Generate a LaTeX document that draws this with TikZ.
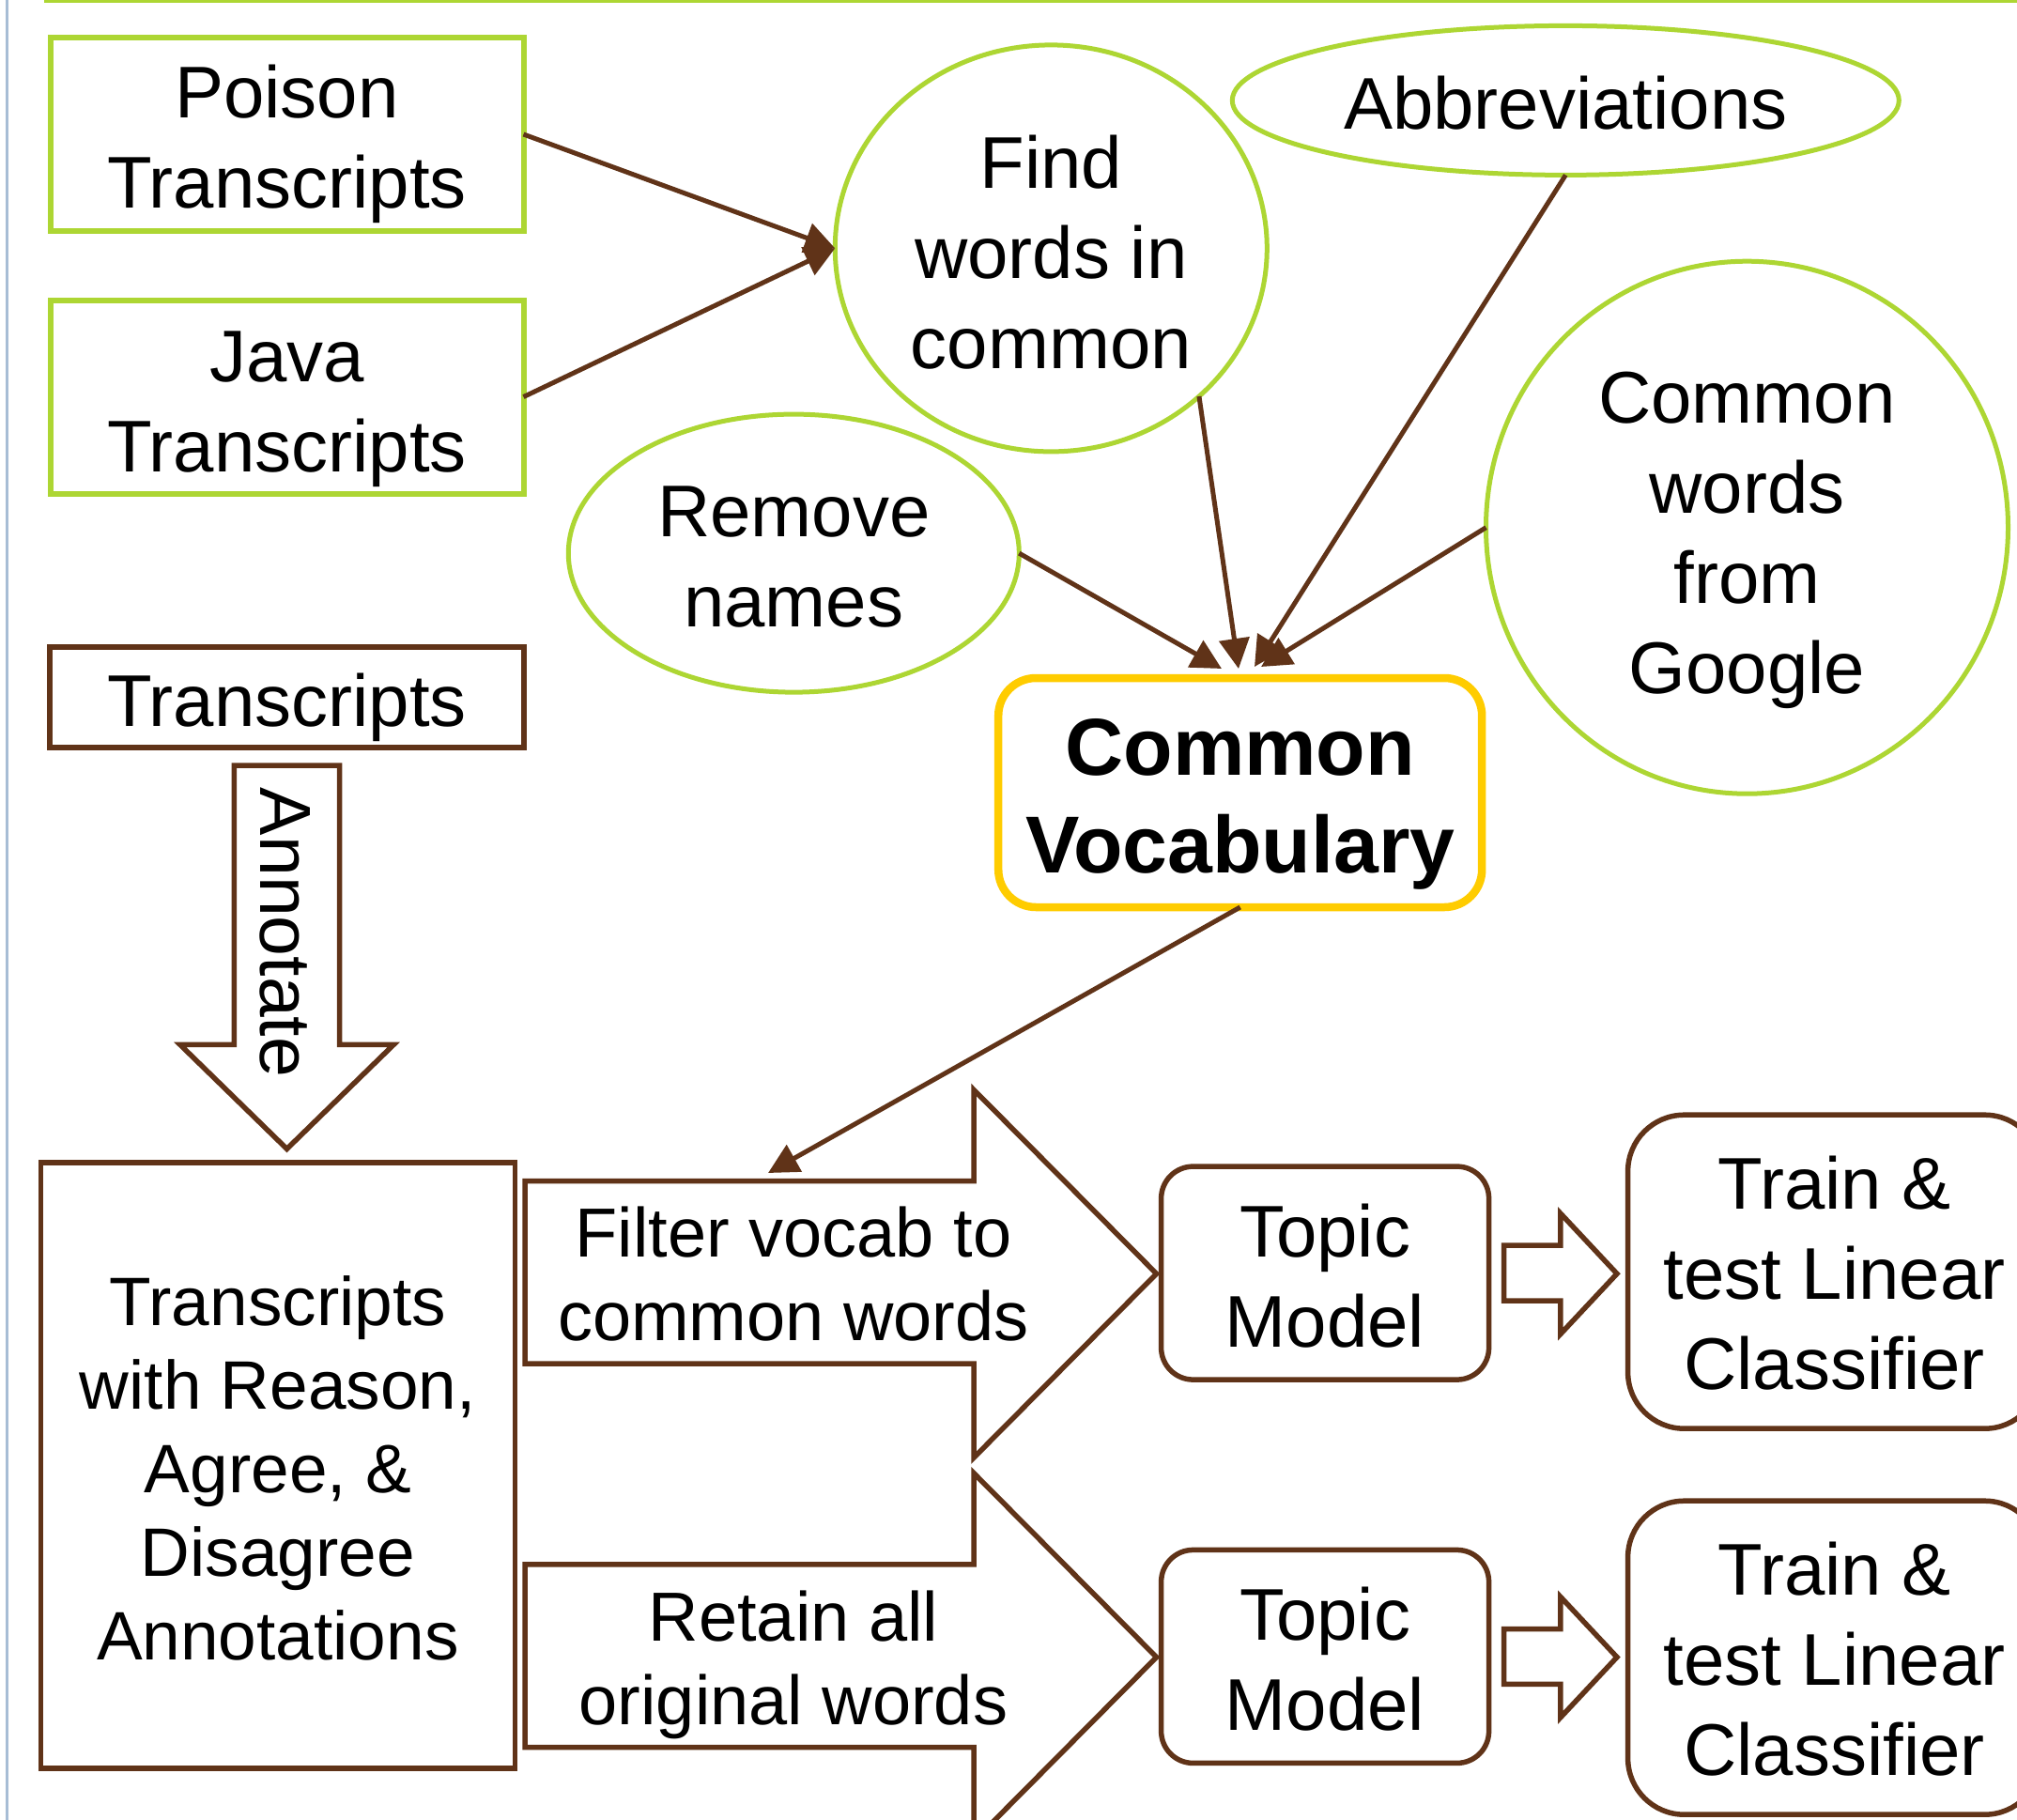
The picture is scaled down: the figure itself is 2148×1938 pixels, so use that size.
\documentclass[tikz,border=0pt]{standalone}
\usepackage{fontspec}
\setmainfont{Liberation Sans}
\usetikzlibrary{shapes.geometric,arrows.meta}
\definecolor{lgreen}{HTML}{ADD633}
\definecolor{vyellow}{HTML}{FFCC00}
\definecolor{dbrown}{HTML}{603318}
\definecolor{edgeblue}{HTML}{A7BDD5}
\begin{document}
\begin{tikzpicture}[x=1pt,y=-1pt,
  every node/.style={inner sep=0pt, outer sep=0pt, align=center},
  txt/.style={font=\fontsize{78}{96}\selectfont},
  smalltxt/.style={font=\fontsize{74}{89}\selectfont},
  greenbox/.style={draw=lgreen, line width=6pt, rectangle, minimum width=504pt, minimum height=206pt},
  greenoval/.style={draw=lgreen, line width=5pt, ellipse},
  brownbox/.style={draw=dbrown, line width=5.5pt, rectangle},
  brownround/.style={draw=dbrown, line width=5.5pt, rounded corners=34pt, rectangle},
  conn/.style={draw=dbrown, line width=5pt, -{Triangle[length=32pt,width=32pt]}},
  blockarrow/.style={draw=dbrown, line width=5.5pt, fill=white, line join=miter},
  vocabstyle/.style={draw=vyellow, line width=8.5pt, rounded corners=40pt, rectangle},
  vocabtxt/.style={font=\fontsize{86}{104}\selectfont\bfseries},
]
\clip (0,0) rectangle (2148,1938);
\fill[white] (0,0) rectangle (2148,1938);
\draw[edgeblue, line width=3pt] (7,0) -- (7,1938);
\draw[lgreen, line width=3.5pt] (47,1) -- (2148,1);

% top inputs
\node[greenbox] (poison) at (305.5,143) {};
\node[txt] (poisontxt) at (305.5,153) {Poison\\Transcripts};
\node[greenbox] (java) at (305.5,422.6) {};
\node[txt] (javatxt) at (305.5,436) {Java\\Transcripts};
\node[greenoval, minimum width=460pt, minimum height=433pt] (find) at (1119.3,264.4) {};
\node[txt] (findtxt) at (1119.3,268.5) {Find\\words in\\common};
\node[greenoval, minimum width=710pt, minimum height=159pt] (abbr) at (1667.3,106.9) {};
\node[txt] (abbrtxt) at (1667.3,110) {Abbreviations};
\node[greenoval, minimum width=556pt, minimum height=567pt] (google) at (1860.5,561.7) {};
\node[txt] (googletxt) at (1860.5,575.5) {Common\\words\\from\\Google};
\node[greenoval, minimum width=480pt, minimum height=296pt] (remove) at (845.3,589.1) {};
\node[txt] (removetxt) at (845.3,593) {Remove\\names};
\node[vocabstyle, minimum width=515pt, minimum height=244pt] (vocab) at (1320.7,844) {};
\node[vocabtxt] (vocabtxtnode) at (1320.7,856) {Common\\Vocabulary};

% transcripts and annotate
\node[brownbox, minimum width=505pt, minimum height=107pt] (trans) at (305.5,742.5) {};
\node[txt] (transtxt) at (305.5,753.5) {Transcripts};
\draw[blockarrow] (249.3,815) -- (361.7,815) -- (361.7,1112.4) -- (419.2,1112.4) -- (305.5,1223.4) -- (191.8,1112.4) -- (249.3,1112.4) -- cycle;
\node[font=\fontsize{77}{94}\selectfont, rotate=-90] (annot) at (304,993) {Annotate};

\node[brownbox, minimum width=505pt, minimum height=645pt] (annotated) at (295.9,1560.4) {};
\node[font=\fontsize{73}{89}\selectfont] (annotatedtxt) at (295.9,1563.5) {Transcripts\\with Reason,\\Agree, \&\\Disagree\\Annotations};

% block arrows
\draw[blockarrow] (559,1257.7) -- (1037,1257.7) -- (1037,1160.4) -- (1231.6,1356.3) -- (1037,1552.2) -- (1037,1452.2) -- (559,1452.2) -- cycle;
\node[smalltxt] (filter) at (845,1357) {Filter vocab to\\common words};
\draw[blockarrow] (559,1665.9) -- (1037,1665.9) -- (1037,1568.6) -- (1231.6,1764.6) -- (1037,1960.6) -- (1037,1860.5) -- (559,1860.5) -- cycle;
\node[smalltxt] (retain) at (845,1773) {Retain all\\original words};

% topic models
\node[brownround, minimum width=349pt, minimum height=227pt] (topic1) at (1411.1,1355.6) {};
\node[txt] (topic1txt) at (1411.1,1358.5) {Topic\\Model};
\node[brownround, minimum width=349pt, minimum height=227pt] (topic2) at (1411.1,1763.9) {};
\node[txt] (topic2txt) at (1411.1,1766.8) {Topic\\Model};

\draw[blockarrow] (1601.5,1326.2) -- (1661.8,1326.2) -- (1661.8,1292) -- (1722,1356.3) -- (1661.8,1420.6) -- (1661.8,1385.1) -- (1601.5,1385.1) -- cycle;
\draw[blockarrow] (1601.5,1734.5) -- (1661.8,1734.5) -- (1661.8,1700.3) -- (1722,1764.6) -- (1661.8,1828.9) -- (1661.8,1793.4) -- (1601.5,1793.4) -- cycle;

\node[brownround, rounded corners=60pt, minimum width=440pt, minimum height=334pt] (train1) at (1953.6,1354.2) {};
\node[txt] (train1txt) at (1953.6,1356) {Train \&\\test Linear\\Classifier};
\node[brownround, rounded corners=60pt, minimum width=440pt, minimum height=334pt] (train2) at (1953.6,1765.2) {};
\node[txt] (train2txt) at (1953.6,1767) {Train \&\\test Linear\\Classifier};

% connectors
\coordinate (vfind) at (1319,712);
\coordinate (vabbr) at (1336,710);
\coordinate (vrem) at (1301,712);
\coordinate (vgoo) at (1343,710);
\coordinate (ftop) at (818,1249);
\draw[conn] (poison.east) -- (find.west);
\draw[conn] (java.east) -- (find.west);
\draw[conn] (find.-45) -- (vfind);
\draw[conn] (abbr.south) -- (vabbr);
\draw[conn] (remove.east) -- (vrem);
\draw[conn] (google.west) -- (vgoo);
\draw[conn] (vocab.south) -- (ftop);
\end{tikzpicture}
\end{document}
